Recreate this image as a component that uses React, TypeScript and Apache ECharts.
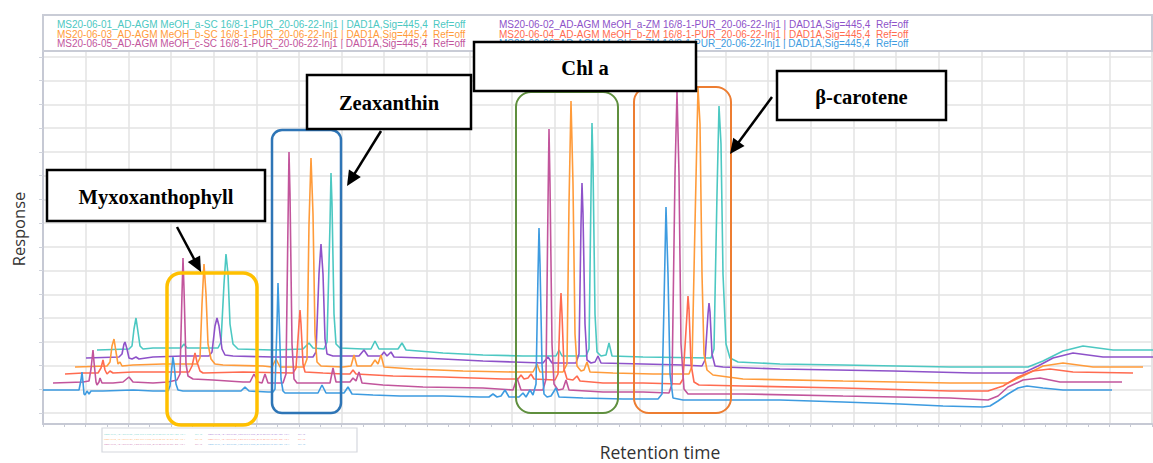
import React, { useEffect, useRef } from "react";
import * as echarts from "echarts";

// Series names (legend texts) and colours, in legend order (row-major, 2 columns)
const seriesNames = [
  "MS20-06-01_AD-AGM MeOH_a-SC 16/8-1-PUR_20-06-22-Inj1 | DAD1A,Sig=445,4",
  "MS20-06-02_AD-AGM MeOH_a-ZM 16/8-1-PUR_20-06-22-Inj1 | DAD1A,Sig=445,4",
  "MS20-06-03_AD-AGM MeOH_b-SC 16/8-1-PUR_20-06-22-Inj1 | DAD1A,Sig=445,4",
  "MS20-06-04_AD-AGM MeOH_b-ZM 16/8-1-PUR_20-06-22-Inj1 | DAD1A,Sig=445,4",
  "MS20-06-05_AD-AGM MeOH_c-SC 16/8-1-PUR_20-06-22-Inj1 | DAD1A,Sig=445,4",
  "MS20-06-06_AD-AGM MeOH_c-ZM 16/8-1-PUR_20-06-22-Inj1 | DAD1A,Sig=445,4",
];
const refText = "Ref=off";
const seriesColors = ["#4cc8c2", "#8e52c9", "#ff9b3a", "#ff6b50", "#c2559c", "#3d9be0"];

// Chromatogram traces: [retention time (a.u.), response (a.u.)]
const teal01: number[][] = [
  [54,74],[86,75],[89,78],[91,95],[93,106],[95,92],[97,78],[100,75],[110,76],[138,76],[141,80],[144,76],
  [175,76],[178,82],[181,140],[183,170],[185,150],[187,100],[190,80],[195,75],[230,74],[260,75],[266,81],[270,76],
  [281,75],[284,82],[287,200],[288,251],[289,220],[291,110],[293,80],[297,76],[320,75],[328,75],[332,83],[336,75],
  [355,75],[359,81],[363,74],[400,71],[440,69],[480,68],[513,68],[516,74],[519,68],[543,68],[546,75],[548,230],
  [549,301],[550,260],[552,110],[554,72],[558,68],[563,69],[566,81],[569,68],[600,67],[668,66],[671,75],[674,230],
  [676,318],[678,280],[680,150],[683,80],[687,66],[695,62],[737,60],[800,59],[907,57],[985,57],[1000,63],[1020,73],
  [1040,78],[1070,74],[1110,74],
];
const purple02: number[][] = [
  [43,66],[76,67],[79,70],[81,80],[82,82],[84,75],[86,66],[89,65],[93,67],[96,65],[110,67],[140,68],[166,68],
  [169,72],[172,98],[174,106],[176,98],[179,75],[182,69],[190,68],[230,67],[270,67],[273,72],[276,150],[278,180],
  [280,150],[282,85],[284,70],[290,68],[316,68],[321,74],[325,68],[338,68],[341,72],[344,68],[348,72],[351,67],
  [380,66],[440,63],[470,62],[500,61],[505,67],[509,61],[533,61],[536,70],[538,200],[539,241],[540,210],[542,100],
  [544,64],[548,61],[552,62],[555,68],[558,61],[600,60],[640,59],[659,58],[662,64],[665,110],[666,121],[667,112],
  [669,70],[672,58],[680,57],[737,55],[850,53],[930,51],[980,51],[995,58],[1010,66],[1030,71],[1060,67],[1110,67],
];
const orange03: number[][] = [
  [32,57],[64,58],[67,62],[69,78],[71,85],[73,72],[75,60],[77,62],[79,58],[90,59],[120,60],[154,60],[157,66],
  [159,120],[161,160],[163,130],[165,80],[168,65],[172,60],[180,59],[220,58],[229,57],[233,65],[237,57],[261,57],
  [264,65],[266,200],[268,266],[270,210],[272,90],[274,62],[278,58],[300,57],[308,58],[311,69],[314,58],[328,58],
  [332,64],[335,60],[338,69],[341,57],[370,55],[420,53],[470,52],[490,52],[494,60],[497,52],[520,52],[524,60],
  [526,220],[528,323],[530,240],[532,90],[534,58],[538,53],[541,54],[544,62],[547,52],[570,51],[610,50],[646,50],
  [649,58],[652,200],[655,336],[657,300],[659,150],[661,70],[664,54],[670,49],[700,45],[800,43],[907,41],[965,41],
  [980,48],[1000,58],[1020,61],[1050,57],[1100,57],
];
const salmon04: number[][] = [
  [22,50],[40,51],[55,51],[58,56],[60,64],[62,54],[64,50],[67,53],[70,51],[90,52],[120,52],[146,52],[149,58],
  [152,71],[154,62],[157,53],[160,51],[200,52],[250,51],[253,56],[256,100],[257,114],[258,100],[260,60],[262,52],
  [280,51],[300,50],[307,50],[310,54],[313,50],[350,48],[400,47],[460,45],[475,45],[478,49],[481,45],[485,46],
  [488,50],[491,45],[512,44],[515,50],[517,110],[518,131],[519,110],[521,55],[524,45],[530,44],[534,48],[537,43],
  [560,41],[600,41],[637,40],[640,45],[644,110],[645,128],[646,115],[648,60],[651,42],[656,39],[700,38],[800,36],
  [907,33],[945,33],[960,38],[975,47],[990,53],[1007,55],[1030,52],[1090,51],
];
const magenta05: number[][] = [
  [10,41],[40,42],[46,43],[48,55],[50,74],[51,62],[53,42],[54,39],[56,42],[57,46],[59,41],[70,41],[80,42],[86,47],
  [90,42],[110,41],[125,42],[134,44],[137,50],[139,130],[140,166],[141,135],[143,60],[145,48],[150,45],[170,44],
  [200,42],[207,42],[211,50],[215,42],[219,41],[222,50],[225,41],[240,41],[243,50],[245,200],[246,272],[247,230],
  [249,80],[251,45],[254,41],[270,41],[287,41],[290,56],[293,42],[307,42],[310,46],[313,43],[316,52],[319,41],
  [340,39],[380,37],[440,36],[470,34],[474,46],[478,34],[500,34],[503,45],[505,220],[506,295],[507,240],[509,80],
  [511,40],[515,34],[520,35],[523,44],[526,34],[560,32],[600,32],[626,31],[629,40],[632,250],[634,332],[636,250],
  [638,80],[641,35],[645,30],[700,30],[800,28],[907,26],[945,24],[955,28],[965,37],[980,44],[997,46],[1017,42],
  [1079,42],
];
const blue06: number[][] = [
  [0,34],[30,34],[36,34],[38,44],[39,52],[40,42],[41,30],[42,29],[44,33],[46,30],[48,33],[60,33],[90,34],[110,33],
  [125,33],[127,38],[129,58],[130,67],[131,60],[133,40],[135,34],[140,33],[170,33],[198,33],[202,37],[206,33],
  [225,32],[230,32],[232,35],[234,100],[235,141],[236,110],[238,45],[240,33],[242,31],[260,31],[275,31],[279,39],
  [283,31],[295,31],[301,31],[305,37],[309,30],[330,29],[357,28],[400,28],[437,27],[446,27],[450,30],[454,27],
  [458,28],[462,34],[466,27],[476,27],[480,31],[483,27],[487,34],[490,29],[493,40],[495,150],[496,196],[497,160],
  [499,60],[501,30],[504,27],[508,28],[513,36],[516,27],[540,26],[580,25],[615,25],[619,30],[621,120],[623,217],
  [625,150],[627,50],[630,26],[640,24],[737,24],[800,22],[857,20],[900,18],[940,17],[947,18],[955,23],[965,30],
  [975,36],[984,38],[1000,36],[1020,34],[1069,34],
];
const traces = [teal01, purple02, orange03, salmon04, magenta05, blue06];

// Annotations
const compoundLabels = ["Myxoxanthophyll", "Zeaxanthin", "Chl a", "β-carotene"];
const xAxisTitle = "Retention time";
const yAxisTitle = "Response";

function arrow(x1: number, y1: number, x2: number, y2: number) {
  const dx = x2 - x1, dy = y2 - y1;
  const len = Math.hypot(dx, dy);
  const ux = dx / len, uy = dy / len;
  const hl = 15, hw = 7;
  const bx = x2 - ux * hl, by = y2 - uy * hl;
  return [
    { type: "line", z: 110, shape: { x1, y1, x2: bx + ux * 2, y2: by + uy * 2 }, style: { stroke: "#000", lineWidth: 2.5 } },
    {
      type: "polygon", z: 110,
      shape: { points: [[x2, y2], [bx - uy * hw, by + ux * hw], [bx + uy * hw, by - ux * hw]] },
      style: { fill: "#000" },
    },
  ];
}

function labelBox(x: number, y: number, w: number, h: number, text: string) {
  return [
    { type: "rect", z: 100, shape: { x, y, width: w, height: h }, style: { fill: "#fff", stroke: "#000", lineWidth: 2.5 } },
    {
      type: "text", z: 101, x: x + w / 2, y: y + h / 2 + 1,
      style: { text, fill: "#000", font: 'bold 20.5px "Liberation Serif", serif', align: "center", verticalAlign: "middle" },
    },
  ];
}

function hiRect(x: number, y: number, w: number, h: number, r: number, color: string, lw: number) {
  return { type: "rect", z: 90, shape: { x, y, width: w, height: h, r }, style: { fill: "none", stroke: color, lineWidth: lw } };
}

export default function App() {
  const ref = useRef<HTMLDivElement>(null);
  useEffect(() => {
    if (!ref.current) return;
    const chart = echarts.init(ref.current, undefined, { renderer: "svg" });

    const legendCols = [57, 499];
    const legendRefX = [433, 876];
    const legendRows = [24, 34, 43.5];
    const miniCols = [104, 208];
    const miniRefX = [195, 298];
    const miniRows = [434, 439, 444];

    const graphic: any[] = [];
    // legend frame
    graphic.push({ type: "rect", z: 10, shape: { x: 43, y: 15, width: 1109, height: 36 }, style: { fill: "#fff", stroke: "#c9ccd6", lineWidth: 2 } });
    seriesNames.forEach((name, i) => {
      const col = i % 2, row = Math.floor(i / 2);
      const fillC = seriesColors[i];
      const f = '10px "Liberation Sans", Arial, sans-serif';
      graphic.push({ type: "text", z: 20, x: legendCols[col], y: legendRows[row], style: { text: name, fill: fillC, font: f, verticalAlign: "middle" } });
      graphic.push({ type: "text", z: 20, x: legendRefX[col], y: legendRows[row], style: { text: refText, fill: fillC, font: f, verticalAlign: "middle" } });
    });
    // mini legend at bottom
    graphic.push({ type: "rect", z: 80, shape: { x: 102, y: 428, width: 255, height: 24 }, style: { fill: "#fff", stroke: "#d5d7de", lineWidth: 1.2 } });
    seriesNames.forEach((name, i) => {
      const col = i % 2, row = Math.floor(i / 2);
      const f = '2.2px "Liberation Sans", sans-serif';
      graphic.push({ type: "text", z: 81, x: miniCols[col], y: miniRows[row], style: { text: name, fill: seriesColors[i], opacity: 0.8, font: f, verticalAlign: "middle" } });
      graphic.push({ type: "text", z: 81, x: miniRefX[col], y: miniRows[row], style: { text: refText, fill: seriesColors[i], opacity: 0.8, font: f, verticalAlign: "middle" } });
    });
    // axis titles
    graphic.push({ type: "text", z: 50, x: 18, y: 229, rotation: Math.PI / 2, style: { text: yAxisTitle, fill: "#333", font: '16.5px "Open Sans", sans-serif', align: "center", verticalAlign: "middle" } });
    graphic.push({ type: "text", z: 50, x: 660, y: 452, style: { text: xAxisTitle, fill: "#333", font: '17.5px "Open Sans", sans-serif', align: "center", verticalAlign: "middle" } });
    // highlight rectangles
    graphic.push(hiRect(167, 273, 90, 152, 14, "#ffc000", 3.5));
    graphic.push(hiRect(272, 130, 69, 283, 10, "#2e75b6", 2.5));
    graphic.push(hiRect(516, 92, 102, 321, 15, "#5f8f3e", 2));
    graphic.push(hiRect(634, 87, 97, 326, 15, "#ed7d31", 2));
    // label boxes
    graphic.push(...labelBox(47, 170, 218, 51, compoundLabels[0]));
    graphic.push(...labelBox(307, 75, 164, 54, compoundLabels[1]));
    graphic.push(...labelBox(474, 42, 222, 49, compoundLabels[2]));
    graphic.push(...labelBox(777, 71, 169, 49, compoundLabels[3]));
    // arrows
    graphic.push(...arrow(177, 227, 201, 272));
    graphic.push(...arrow(381, 131, 347, 186));
    graphic.push(...arrow(772, 97, 730, 154));

    const option: any = {
      animation: false,
      backgroundColor: "#fff",
      grid: [
        { left: 43, right: 1, top: 57, bottom: 50 },
        { left: 43, right: 1, top: 51, bottom: 39 },
      ],
      xAxis: [
        { type: "value", gridIndex: 0, min: 0, max: 1, show: false },
        {
          type: "value", gridIndex: 1, min: 0, max: 1109, interval: 42.65,
          axisLine: { show: true, lineStyle: { color: "#c6c9d4", width: 2 } },
          axisTick: { show: true, length: 3, lineStyle: { color: "#c6c9d4" } },
          minorTick: { show: true, splitNumber: 2, length: 3, lineStyle: { color: "#c6c9d4" } },
          axisLabel: { show: false },
          splitLine: { show: true, lineStyle: { color: "#e3e3e3", width: 1.5 } },
        },
      ],
      yAxis: [
        {
          type: "value", gridIndex: 0, min: 0, max: 15, interval: 1,
          axisLine: { show: false },
          axisTick: { show: true, length: 4, lineStyle: { color: "#d0d3dc" } },
          axisLabel: { show: false },
          splitLine: { show: true, lineStyle: { color: "#e3e3e3", width: 1.5 } },
        },
        {
          type: "value", gridIndex: 1, min: 0, max: 373,
          axisLine: { show: true, lineStyle: { color: "#c6c9d4", width: 2 } },
          axisTick: { show: false },
          axisLabel: { show: false },
          splitLine: { show: false },
        },
      ],
      series: traces.map((d, i) => ({
        type: "line",
        name: seriesNames[i],
        xAxisIndex: 1,
        yAxisIndex: 1,
        data: d,
        showSymbol: false,
        symbol: "none",
        lineStyle: { color: seriesColors[i], width: 1.6 },
        itemStyle: { color: seriesColors[i] },
        z: 5 + i,
      })),
      graphic,
    };
    chart.setOption(option);
    return () => chart.dispose();
  }, []);

  return <div ref={ref} style={{ position: "fixed", left: 0, top: 0, width: 1153, height: 463 }} />;
}
